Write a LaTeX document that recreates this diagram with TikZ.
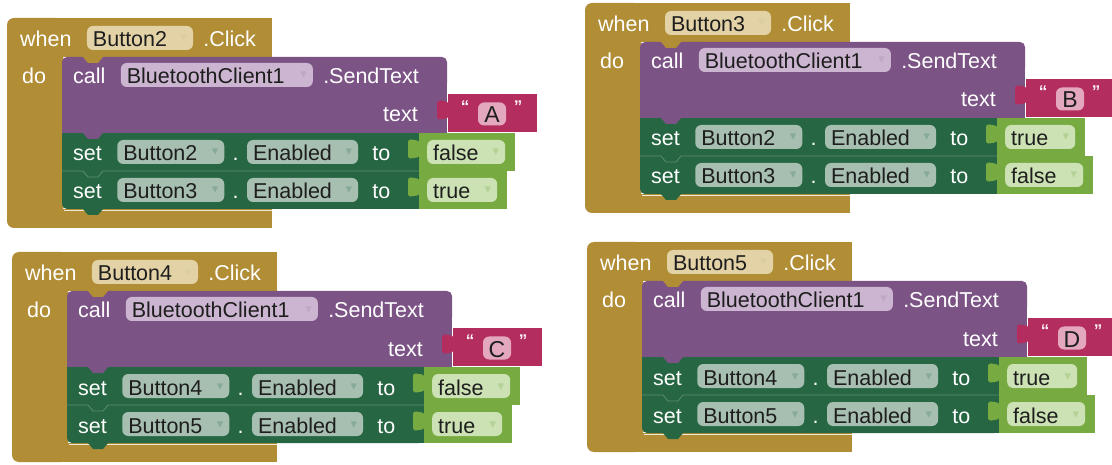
\documentclass[tikz,border=0pt]{standalone}
\usepackage{fontspec}
\setmainfont{Liberation Sans}
\newfontfamily\symfont{DejaVu Sans}
\usetikzlibrary{positioning}

% block colours
\definecolor{evgold}{HTML}{B18D36}
\definecolor{evpill}{HTML}{E3D2A5}
\definecolor{callpurple}{HTML}{7C5385}
\definecolor{callpill}{HTML}{CBB5D0}
\definecolor{txtpink}{HTML}{B32D5E}
\definecolor{txtpill}{HTML}{E3A8BD}
\definecolor{setgreen}{HTML}{266643}
\definecolor{setpill}{HTML}{A7BFB1}
\definecolor{boolgreen}{HTML}{77AB41}
\definecolor{boolpill}{HTML}{CCE2B4}
\definecolor{pilltext}{HTML}{1E1E1E}

\newcommand{\dd}[1]{\raisebox{5pt}{\symfont\fontsize{13}{13}\selectfont\textcolor{#1}{▾}}} % dropdown mark
\def\valfalse{false}

\tikzset{
every node/.style={inner sep=0pt, font=\fontsize{21.5}{24}\selectfont, text height=19pt, text depth=1pt}, % block font
lbl/.style={text=white, anchor=west}, % white words on a block
pill/.style={rounded corners=6pt, minimum height=24pt, inner xsep=6pt, anchor=west, align=left, text=pilltext}, % dropdown field
quote/.style={text=white!92!txtpink, font=\bfseries\fontsize{17}{17}\selectfont, text height=11pt, text depth=0pt},
}

% small tab that hangs under a statement block
\newcommand{\tabdown}[2]{\fill[#1] (76,#2-1) -- (76,#2) -- (81,#2+6) -- (91,#2+6) -- (96,#2) -- (96,#2-1) -- cycle;}
% plug on the left of a value block
\newcommand{\tableft}[3]{\fill[#1, rounded corners=3pt] (#2+1,#3+8) -- (#2-11,#3+6) -- (#2-11,#3+26) -- (#2+1,#3+24) -- cycle;}

% one "set ... to" row: id, row top, button, value
\newcommand{\setrow}[4]{%
  \def\rowval{#4}%
  \ifx\rowval\valfalse\def\vw{96}\def\pw{66}\else\def\vw{88}\def\pw{58}\fi
  \fill[boolgreen] (412,#2) rectangle ({412+\vw},#2+38);
  \tableft{boolgreen}{412}{#2}
  \node[lbl] (#1set) at (66,#2+19) {set};
  \node[pill, fill=setpill, text width=95pt, right=15pt of #1set] (#1btn) {#3\hfill\dd{setgreen!55!white}};
  \node[lbl, right=8pt of #1btn] (#1dot) {.};
  \node[pill, fill=setpill, text width=99pt, right=8pt of #1dot] (#1en) {Enabled\hfill\dd{setgreen!55!white}};
  \node[lbl, right=14pt of #1en] (#1to) {to};
  \node[pill, fill=boolpill, text width=\pw pt] (#1val) at (420,#2+19) {#4\hfill\dd{boolgreen!55!white}};
}

% whole event block: id, origin, button, letter, button a, value a, button b, value b
\newcommand{\evblock}[8]{%
\begin{scope}[shift={(#2)}]
  % event frame
  \fill[evgold, rounded corners=7pt] (0,0) rectangle (56,210);
  \fill[evgold] (20,0) rectangle (265,39);
  \fill[evgold] (20,191) rectangle (265,210);
  \draw[white!80!evgold, line width=1.2pt] (57,192.5) -- (265,192.5);
  % set rows
  \fill[setgreen, rounded corners=5pt] (55,140) rectangle (412,191);
  \fill[setgreen] (300,140) rectangle (412,191);
  \tabdown{setgreen}{191}
  \fill[setgreen] (55,115) rectangle (412,153);
  \draw[setgreen!75!white, line width=0.8pt] (55,153) -- (76,153) -- (81,159) -- (91,159) -- (96,153) -- (412,153);
  % call block
  \fill[callpurple, rounded corners=5pt] (55,39) rectangle (440,70);
  \fill[callpurple] (55,55) rectangle (440,115);
  \tabdown{callpurple}{115}
  \tabdown{evgold}{39}
  % text block
  \fill[txtpink] (441,76) rectangle (530,114);
  \tableft{txtpink}{441}{76}
  % words
  \node[lbl] (#1when) at (13,20) {when};
  \node[pill, fill=evpill, text width=94pt, right=15pt of #1when] (#1btn) {#3\hfill\dd{evgold!45!white}};
  \node[lbl, right=10pt of #1btn] (#1click) {.Click};
  \node[lbl] (#1do) at (15,57) {do};
  \node[lbl] (#1call) at (66,57) {call};
  \node[pill, fill=callpill, text width=180pt, right=15pt of #1call] (#1bt) {BluetoothClient1\hfill\dd{callpurple!50!white}};
  \node[lbl, right=10pt of #1bt] (#1send) {.SendText};
  \node[lbl, anchor=east] (#1text) at (411,95) {text};
  \node[quote] (#1lq) at (458,89) {“};
  \node[pill, anchor=center, fill=txtpill, minimum width=28pt, minimum height=23pt, inner xsep=0pt, font=\fontsize{23}{24}\selectfont] (#1let) at (485,96) {#4};
  \node[quote] (#1rq) at (511,89) {”};
  \setrow{#1r1}{115}{#5}{#6}
  \setrow{#1r2}{153}{#7}{#8}
\end{scope}}

\begin{document}
\begin{tikzpicture}[x=1pt, y=-1pt]
  \fill[white] (0,0) rectangle (1112,465);
  \useasboundingbox (0,0) rectangle (1112,465);

  \evblock{a}{7,18}{Button2}{A}{Button2}{false}{Button3}{true}
  \evblock{b}{585,3}{Button3}{B}{Button2}{true}{Button3}{false}
  \evblock{c}{12,252}{Button4}{C}{Button4}{false}{Button5}{true}
  \evblock{d}{587,242}{Button5}{D}{Button4}{true}{Button5}{false}
\end{tikzpicture}
\end{document}
